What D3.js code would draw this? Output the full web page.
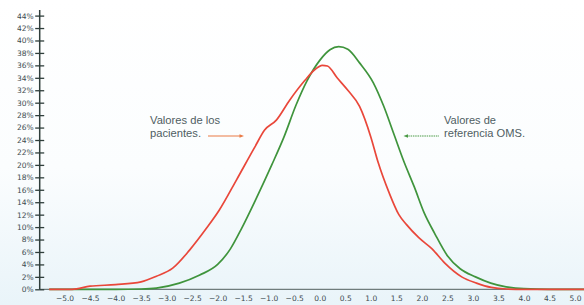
<!DOCTYPE html>
<html>
<head>
<meta charset="utf-8">
<script src="https://cdn.jsdelivr.net/npm/d3@7"></script>
<style>
  body { margin: 0; background: #fff; }
  svg { display: block; }
</style>
</head>
<body>
<script>
// valores: [puntuacion z, % ]
pacientes = [
  [-5.3, 0], [-4.85, 0], [-4.5, 0.5], [-4.0, 0.75], [-3.5, 1.2], [-3.2, 2.1],
  [-2.88, 3.4], [-2.55, 6.3], [-2.22, 9.8], [-1.97, 12.7], [-1.63, 17.6],
  [-1.27, 22.9], [-1.08, 25.6], [-0.85, 27.2], [-0.59, 30.4], [-0.29, 33.6],
  [-0.1, 35.3], [0.05, 36], [0.15, 35.9], [0.34, 34], [0.55, 32], [0.78, 29.4],
  [1.0, 24.5], [1.14, 20.5], [1.36, 15.5], [1.55, 12], [1.7, 10.4], [1.94, 8.3],
  [2.2, 6.5], [2.45, 4.2], [2.78, 2], [3.07, 1], [3.36, 0.3], [3.66, 0.05],
  [4.0, 0], [5.3, 0]
]

oms = [
  [-5.3, 0], [-4.0, 0], [-3.5, 0.05], [-3.2, 0.2], [-2.75, 1.0], [-2.35, 2.3],
  [-2.0, 4.0], [-1.75, 6.5], [-1.53, 9.8], [-1.25, 14.5], [-0.94, 20],
  [-0.7, 24.5], [-0.47, 29.5], [-0.25, 33.5], [0, 36.8], [0.2, 38.5],
  [0.37, 39.0], [0.55, 38.6], [0.78, 36.4], [1.05, 33.2], [1.25, 29.5], [1.45, 25],
  [1.65, 20.5], [1.85, 16.5], [2.05, 12.2], [2.25, 9], [2.5, 5.4], [2.75, 3.3],
  [3.05, 2.0], [3.35, 1.0], [3.65, 0.4], [4.0, 0.1], [4.5, 0], [5.3, 0]
]

xTicks = [-5, -4.5, -4, -3.5, -3, -2.5, -2, -1.5, -1, -0.5, 0, 0.5, 1, 1.5, 2, 2.5, 3, 3.5, 4, 4.5, 5]
yTicks = d3.range(0, 45, 2)

width = 584
height = 305

x = d3.scaleLinear().domain([-5, 5]).range([64.5, 575])
y = d3.scaleLinear().domain([0, 44]).range([289.3, 15.6])

var svg = d3.select("body").append("svg")
  .attr("width", width)
  .attr("height", height)

// fondo azulado suave abajo
var defs = svg.append("defs")
var grad = defs.append("linearGradient")
  .attr("id", "bg").attr("x1", 0).attr("y1", 0).attr("x2", 0).attr("y2", 1)
grad.append("stop").attr("offset", "0%").attr("stop-color", "#ffffff")
grad.append("stop").attr("offset", "55%").attr("stop-color", "#fbfdfe")
grad.append("stop").attr("offset", "100%").attr("stop-color", "#e9f4f9")
svg.append("rect").attr("width", width).attr("height", height).attr("fill", "url(#bg)")

// eje x
svg.append("line")
  .attr("x1", 39).attr("x2", width)
  .attr("y1", y(0)).attr("y2", y(0))
  .attr("stroke", "#6f7c7c").attr("stroke-width", 1.2)

var gx = svg.append("g")
  .attr("transform", "translate(0," + y(0) + ")")
  .call(d3.axisBottom(x).tickValues(xTicks).tickFormat(d3.format(".1f")).tickSize(0).tickPadding(6))
gx.select(".domain").remove()
gx.selectAll("text")
  .attr("fill", "#3d4b50")
  .style("font-family", "DejaVu Sans, sans-serif")
  .style("font-size", "7.5px")

// curvas
line = d3.line()
  .x(d => x(d[0]))
  .y(d => y(d[1]))
  .curve(d3.curveMonotoneX)

svg.append("path").datum(oms)
  .attr("fill", "none")
  .attr("stroke", "#3f943c")
  .attr("stroke-width", 1.7)
  .attr("d", line)

svg.append("path").datum(pacientes)
  .attr("fill", "none")
  .attr("stroke", "#e9473a")
  .attr("stroke-width", 1.7)
  .attr("d", line)

// eje y (marcas a ambos lados)
var gy = svg.append("g")
  .attr("transform", "translate(39.7,0)")
  .call(d3.axisLeft(y).tickValues(yTicks).tickFormat(d => d + "%").tickSize(4.5).tickPadding(1.5))
gy.select(".domain").remove()
gy.selectAll("line").attr("stroke", "#2f3e3b").attr("stroke-width", 1.3)
gy.selectAll("text")
  .attr("fill", "#3d4b50")
  .style("font-family", "DejaVu Sans, sans-serif")
  .style("font-size", "7.5px")

var gy2 = svg.append("g")
  .attr("transform", "translate(39.7,0)")
  .call(d3.axisRight(y).tickValues(yTicks).tickFormat("").tickSize(4.5))
gy2.select(".domain").remove()
gy2.selectAll("line").attr("stroke", "#2f3e3b").attr("stroke-width", 1.3)

svg.append("line")
  .attr("x1", 39.7).attr("x2", 39.7)
  .attr("y1", 10).attr("y2", y(0))
  .attr("stroke", "#2f3e3b").attr("stroke-width", 1.5)

// anotaciones (fuente estrecha)
function label(x0, lines) {
  var t = svg.append("text")
    .attr("fill", "#4f5d62")
    .style("font-family", "Liberation Sans, Arial, sans-serif")
    .style("font-size", "11.3px")
  lines.forEach((l, i) => {
    t.append("tspan")
      .attr("x", x0).attr("y", 123.5 + i * 13)
      .attr("textLength", l[1]).attr("lengthAdjust", "spacingAndGlyphs")
      .text(l[0])
  })
}

label(150, [["Valores de los", 70], ["pacientes.", 51]])
label(444, [["Valores de", 52], ["referencia OMS.", 81]])

svg.append("line")
  .attr("x1", 208).attr("x2", 241)
  .attr("y1", 136).attr("y2", 136)
  .attr("stroke", "#ea7a45").attr("stroke-width", 1.1)
svg.append("path")
  .attr("d", "M244,136 L239.5,134.2 L239.5,137.8 Z")
  .attr("fill", "#ea7a45")

svg.append("line")
  .attr("x1", 406).attr("x2", 439)
  .attr("y1", 136).attr("y2", 136)
  .attr("stroke", "#4a9a45").attr("stroke-width", 1)
  .attr("stroke-dasharray", "1.5,0.8")
svg.append("path")
  .attr("d", "M403.5,136 L408,134.3 L408,137.7 Z")
  .attr("fill", "#4a9a45")
</script>
</body>
</html>
